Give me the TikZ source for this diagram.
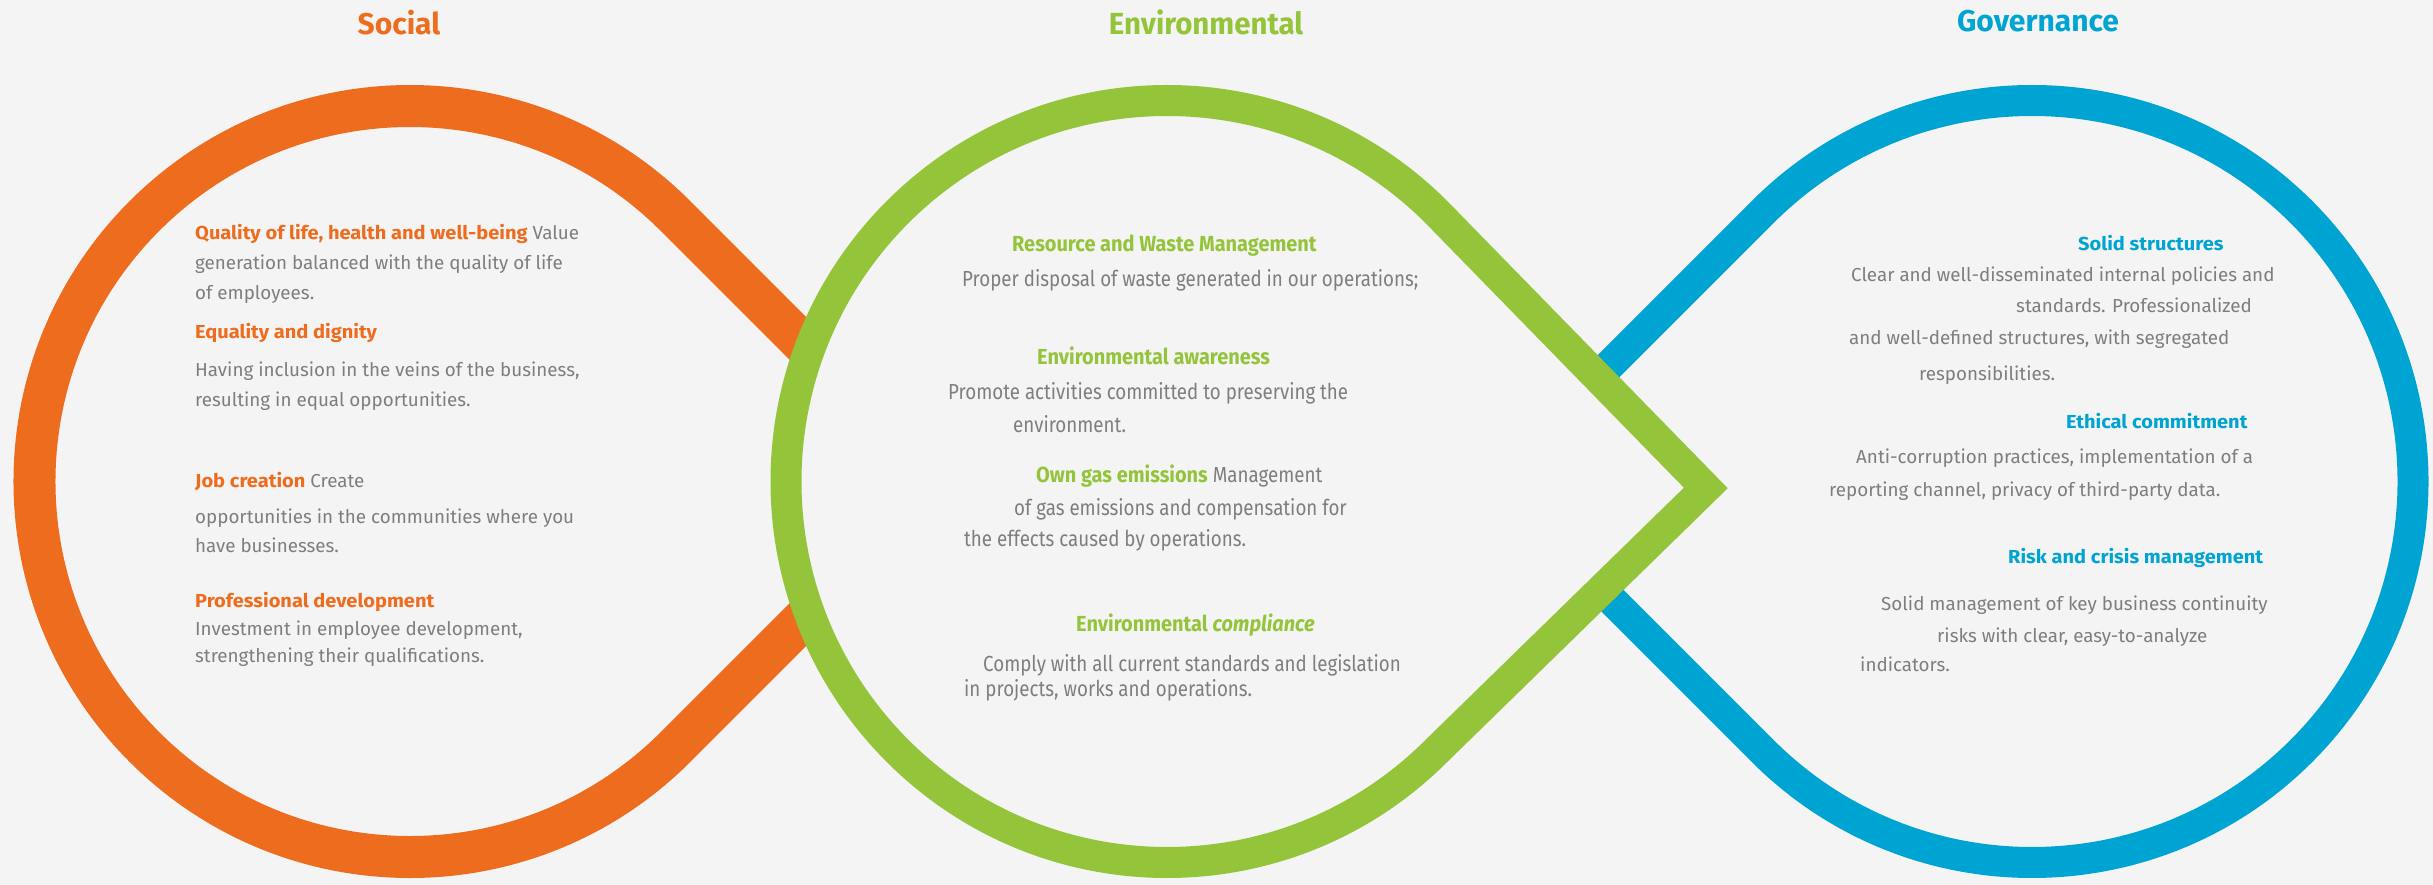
\documentclass[tikz,border=0pt]{standalone}
\usepackage{fontspec}
\setmainfont{Fira Sans}
% wider bold for the headings
\newfontfamily\hbold[FakeStretch=1.065, UprightFont={* Bold}, ItalicFont={* Bold Italic}]{Fira Sans}
% condensed faces for the environmental block
\newfontfamily\envfont[FakeStretch=0.86]{Fira Sans}
\newfontfamily\envbold[FakeStretch=0.915, UprightFont={* Bold}, ItalicFont={* Bold Italic}]{Fira Sans}
\newfontfamily\envtitle[FakeStretch=0.965, UprightFont={* Bold}, ItalicFont={* Bold Italic}]{Fira Sans}

\definecolor{bg}{HTML}{F4F4F4}
\definecolor{social}{HTML}{EE6C1E}
\definecolor{envgreen}{HTML}{94C43A}
\definecolor{gov}{HTML}{00A4D3}
\definecolor{txtgray}{HTML}{7E7E7E}

\newcommand{\bsz}{\fontsize{18.8}{18.8}\selectfont}
\newcommand{\esz}{\fontsize{21.8}{21.8}\selectfont}

\begin{document}
\begin{tikzpicture}[x=1pt,y=1pt,
  ring/.style={line width=#1, line join=miter, miter limit=10},
  title/.style={anchor=base, inner sep=0pt, font=\fontsize{30}{30}\selectfont\bfseries},
  body/.style={anchor=base west, inner sep=0pt, text=txtgray, font=\bsz},
  envbody/.style={anchor=base west, inner sep=0pt, text=txtgray, font=\envfont\esz},
  shead/.style={body, text=social, font=\hbold\bsz},
  ehead/.style={envbody, text=envgreen, font=\envbold\esz},
  ghead/.style={body, text=gov, font=\hbold\bsz}]

% canvas
\fill[bg] (0,0) rectangle (2433,885);
\useasboundingbox (0,0) rectangle (2433,885);

% Social loop: drop pointing right (centre 410,403.5)
\draw[ring=42pt, social] (941,403.5) -- (675.5,669)
  arc[start angle=45, end angle=315, radius=375.5] -- cycle;

% Governance loop: drop pointing left (centre 2032,403.5)
\draw[ring=31pt, gov] (1493.2,403.5) -- (1762.6,672.9)
  arc[start angle=135, end angle=-135, radius=381] -- cycle;

% Environmental loop on top, filled to hide the other tips (centre 1167,403.5)
\draw[ring=31pt, envgreen, fill=bg] (1705.8,397) -- (1436.4,672.9)
  arc[start angle=45, end angle=315, radius=381] -- cycle;

% titles
\node[title, text=social]   (tS) at (399,850)  {Social};
\node[title, text=envgreen, font=\envtitle\fontsize{30.5}{30.5}\selectfont] (tE) at (1206,850) {Environmental};
\node[title, text=gov]      (tG) at (2038,853) {Governance};

% Social
\node[body] (s1)  at (195,645) {\textcolor{social}{\hbold Quality of life, health and well-being} Value};
\node[body] (s2)  at (195,615) {generation balanced with the quality of life};
\node[body] (s3)  at (195,585) {of employees.};
\node[shead] (s4) at (195,546) {Equality and dignity};
\node[body] (s5)  at (195,508) {Having inclusion in the veins of the business,};
\node[body] (s6)  at (195,478) {resulting in equal opportunities.};
\node[body] (s7)  at (195,397) {\textcolor{social}{\hbold Job creation} Create};
\node[body] (s8)  at (195,361) {opportunities in the communities where you};
\node[body] (s9)  at (195,332) {have businesses.};
\node[shead] (s10) at (195,277) {Professional development};
\node[body] (s11) at (195,249) {Investment in employee development,};
\node[body] (s12) at (195,222) {strengthening their qualifications.};

% Environmental
\node[ehead] (e1)  at (1012,633) {Resource and Waste Management};
\node[envbody] (e2)  at (962,598) {Proper disposal of waste generated in our operations;};
\node[ehead] (e3)  at (1037,520) {Environmental awareness};
\node[envbody] (e4)  at (948,485) {Promote activities committed to preserving the};
\node[envbody] (e5)  at (1013,452) {environment.};
\node[envbody] (e6)  at (1036,402) {\textcolor{envgreen}{\envbold Own gas emissions} Management};
\node[envbody] (e7)  at (1014,369) {of gas emissions and compensation for};
\node[envbody] (e8)  at (964,338) {the effects caused by operations.};
\node[ehead] (e9)  at (1076,253) {Environmental \textit{compliance}};
\node[envbody] (e10) at (983,213) {Comply with all current standards and legislation};
\node[envbody] (e11) at (964,188) {in projects, works and operations.};

% Governance
\node[ghead] (g1)  at (2078,634) {Solid structures};
\node[body] (g2)  at (1851,603) {Clear and well-disseminated internal policies and};
\node[body] (g3)  at (2016,572) {standards. Professionalized};
\node[body] (g4)  at (1849,540) {and well-defined structures, with segregated};
\node[body] (g5)  at (1919,504) {responsibilities.};
\node[ghead] (g6)  at (2066,456) {Ethical commitment};
\node[body] (g7)  at (1856,421) {Anti-corruption practices, implementation of a};
\node[body] (g8)  at (1829,388) {reporting channel, privacy of third-party data.};
\node[ghead] (g9)  at (2008,321) {Risk and crisis management};
\node[body] (g10) at (1881,274) {Solid management of key business continuity};
\node[body] (g11) at (1937,242) {risks with clear, easy-to-analyze};
\node[body] (g12) at (1860,213) {indicators.};
\end{tikzpicture}
\end{document}
